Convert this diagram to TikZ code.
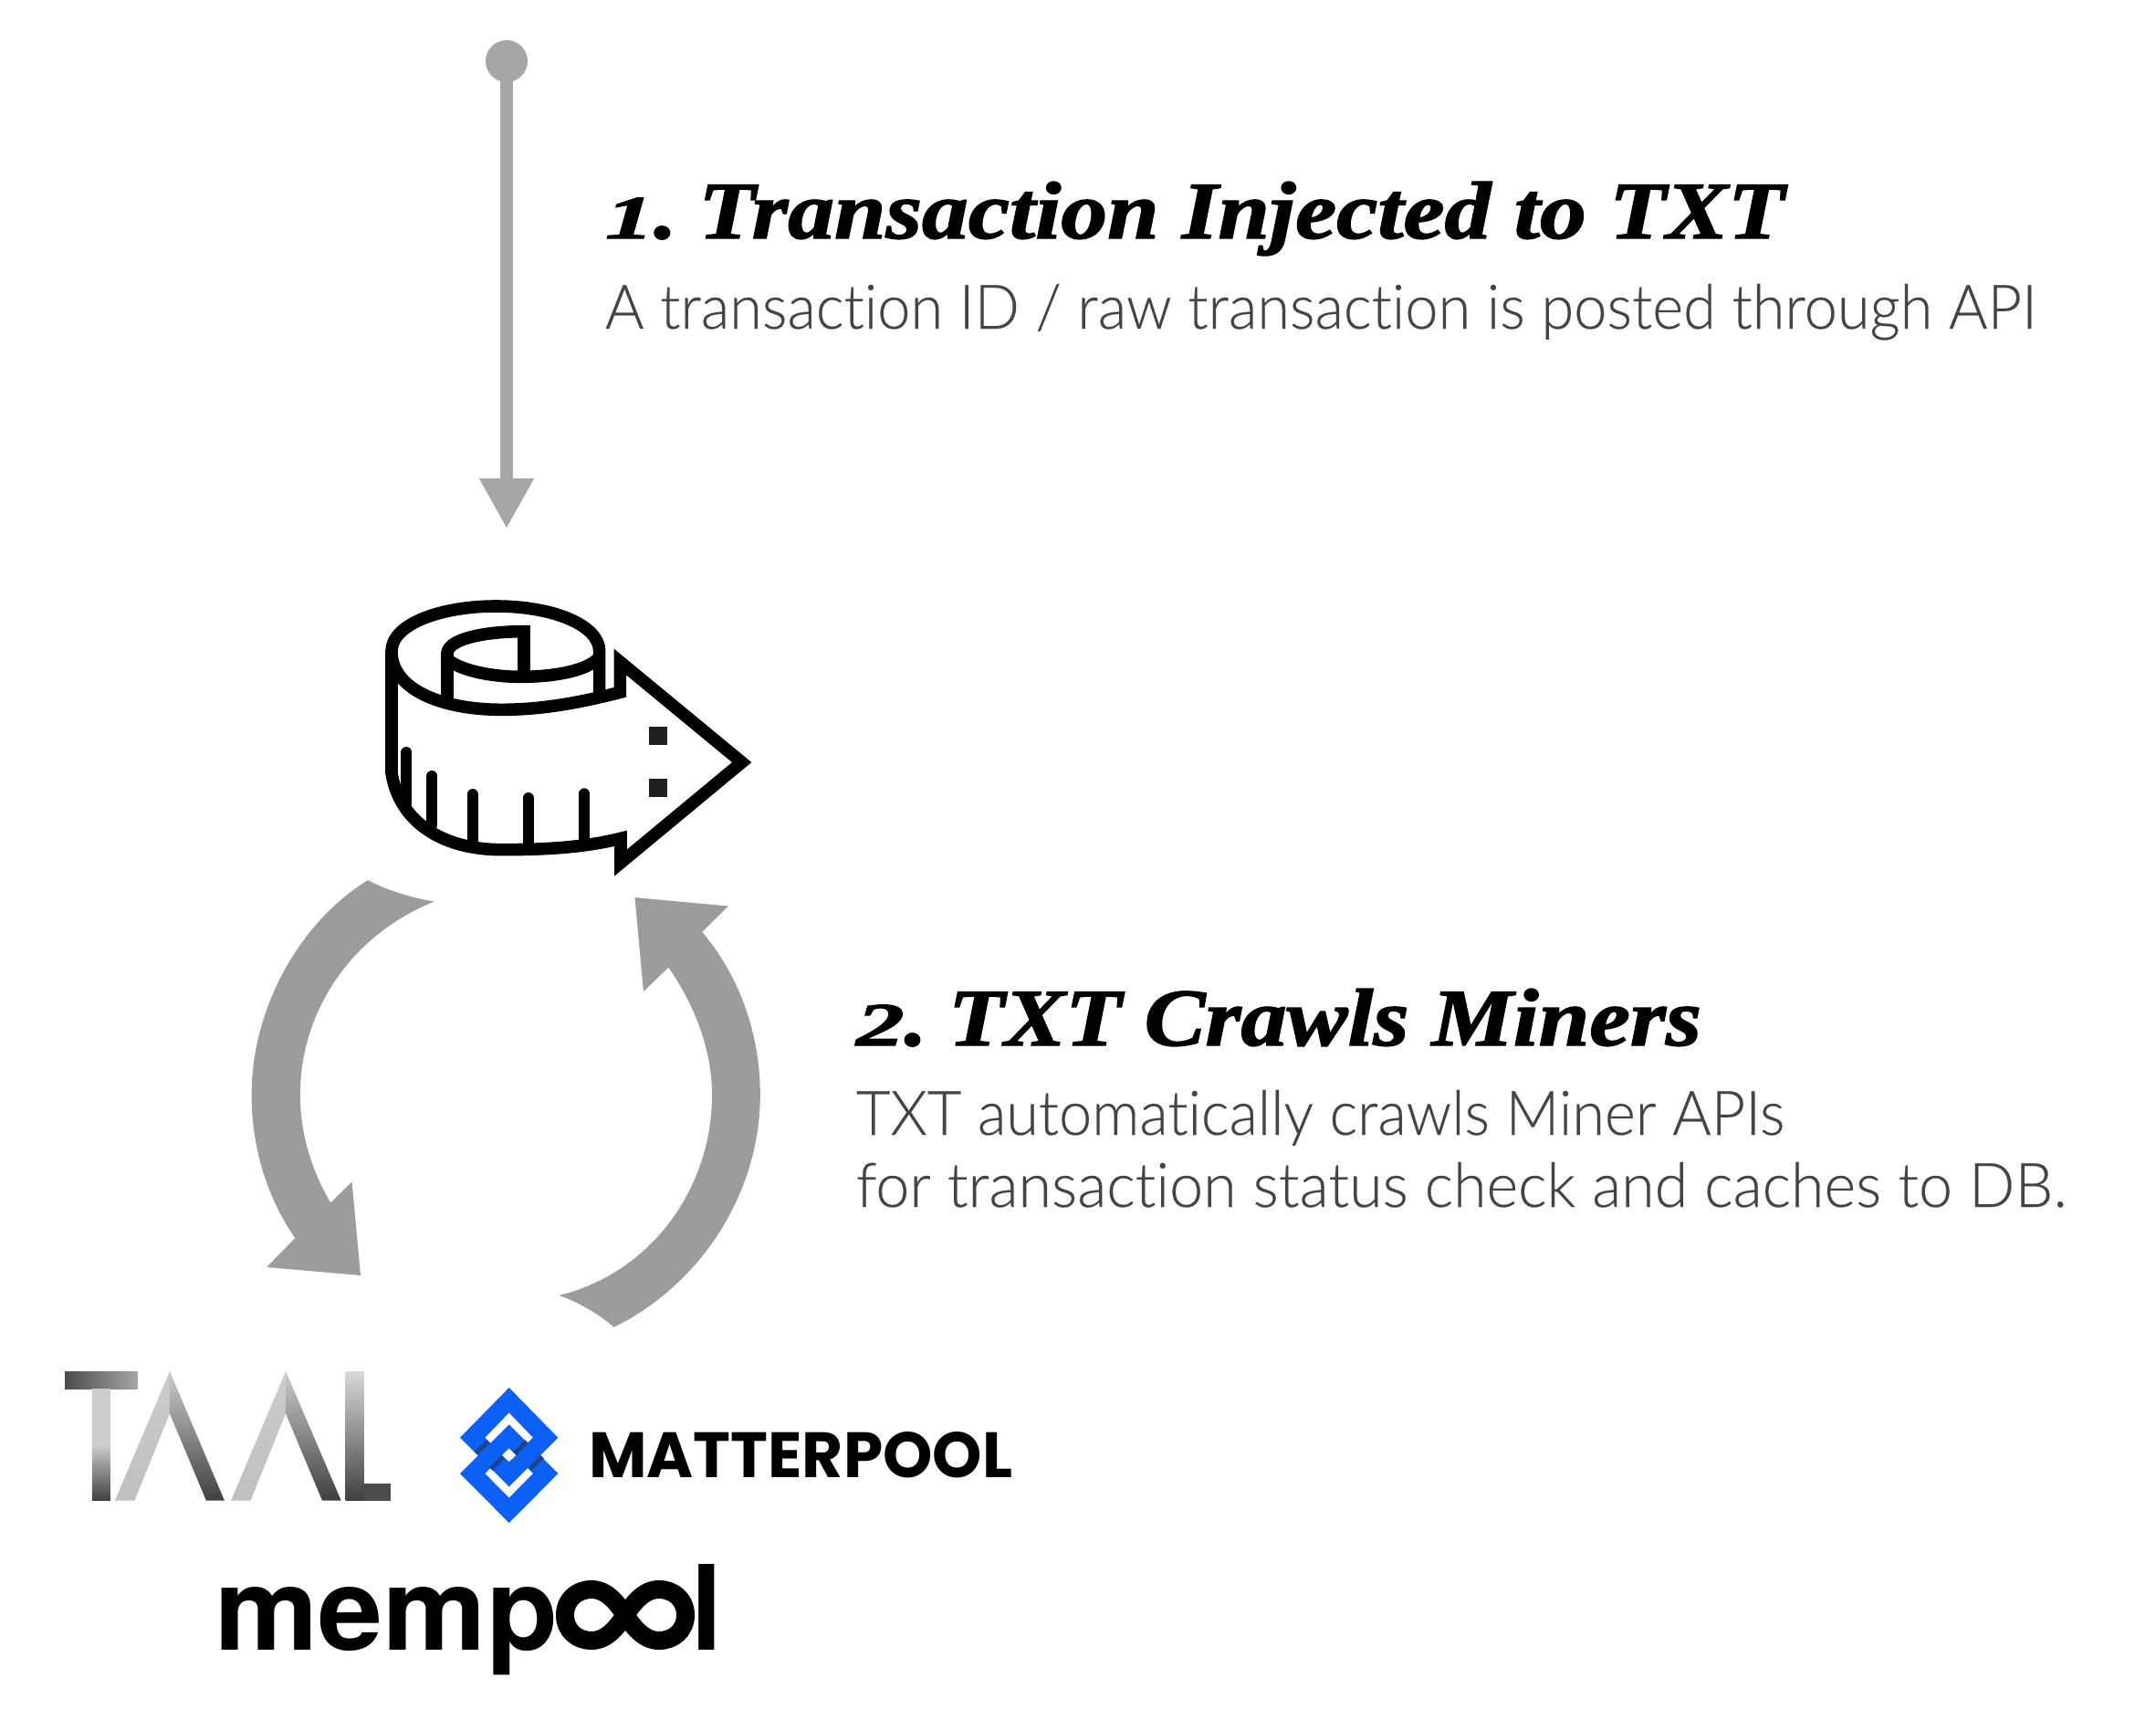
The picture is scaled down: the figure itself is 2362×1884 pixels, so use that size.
\documentclass[tikz,border=0pt]{standalone}
\usepackage{fontspec}
\usepackage{graphicx}
\usetikzlibrary{arrows.meta}
\newfontfamily\headf[FakeBold=1.6]{Liberation Serif Bold Italic}
\newfontfamily\bodyf[Ligatures=NoCommon,FakeBold=0.3]{Lato Light}
\newfontfamily\logof{Poppins}[BoldFont=* Bold]
\newfontfamily\memf{TeX Gyre Heros}[BoldFont=* Bold]
\definecolor{gline}{HTML}{A6A6A6}
\definecolor{gcyc}{HTML}{9C9C9C}
\definecolor{btxt}{HTML}{444444}
\definecolor{mblue}{HTML}{0D60F5}
\definecolor{mdark}{HTML}{1C4587}
\newcommand{\fitbox}[3]{\resizebox{#1pt}{#2pt}{#3}}
\newcommand{\numdig}[1]{\scalebox{1.05}[0.75]{#1}}
\tikzset{
  txt/.style={anchor=base west,inner sep=0pt,outer sep=0pt},
  head/.style={txt,text=black,font=\headf\fontsize{30}{30}\selectfont},
  body/.style={txt,text=btxt,font=\bodyf},
  logo/.style={txt,text=black,font=\logof\bfseries},
  memtxt/.style={txt,text=black,font=\memf\bfseries},
  tape/.style={draw=black,line width=6.8pt,line join=miter},
  tick/.style={draw=black,line width=6pt,line cap=round},
  cyc/.style={fill=gcyc,draw=none},
}
\begin{document}
\begin{tikzpicture}[x=0.5pt,y=-0.5pt]
\useasboundingbox (0,0) rectangle (2362,1884);
% top arrow
\node[circle,fill=gline,minimum size=23pt,inner sep=0pt] (dot) at (555,67) {};
\coordinate (tip) at (555,579);
\draw[gline,line width=7pt,-{Triangle[length=27.5pt,width=28pt]}] (dot.center) -- (tip);
% texts
\node[head] (h1) at (663,261) {\fitbox{646}{31}{\numdig{1}.\hspace{-3pt} Transaction Injected to TXT}};
\node[body] (b1) at (663,360) {\fitbox{784}{24.5}{A transaction ID / raw transaction is posted through API}};
\node[head] (h2) at (938,1145) {\fitbox{463}{31}{\numdig{2}.\hspace{-3pt} TXT Crawls Miners}};
\node[body] (b2) at (938,1243) {\fitbox{508.5}{24.5}{TXT automatically crawls Miner APIs}};
\node[body] (b3) at (938,1322) {\fitbox{663}{24.5}{for transaction status check and caches to DB.}};
% tape measure
\begin{scope}[shift={(380,620)},x=0.16667pt,y=-0.16667pt]
 \draw[tape] (147,300) -- (147,280) .. controls (147,190) and (310,132) .. (490,132)
   .. controls (680,132) and (830,195) .. (830,280) -- (830,420);
 \draw[tape] (147,285) .. controls (150,400) and (300,472) .. (510,472)
   .. controls (650,472) and (780,445) .. (898,415) -- (898,315) -- (1298,645)
   -- (900,975) -- (900,895) .. controls (780,925) and (650,932) .. (510,932)
   .. controls (300,932) and (170,830) .. (147,680) -- cycle;
 \draw[tape] (330,435) -- (330,285) .. controls (335,240) and (450,215) .. (582,215) -- (582,350);
 \draw[tape] (335,310) .. controls (380,345) and (480,364) .. (570,364)
   .. controls (680,364) and (790,345) .. (830,300);
 \draw[tick] (196,612) -- (196,780);
 \draw[tick] (280,690) -- (280,850);
 \draw[tick] (413,750) -- (413,905);
 \draw[tick] (596,762) -- (596,925);
 \draw[tick] (781,748) -- (781,905);
 \fill[black!87] (993,527) rectangle (1053,587);
 \fill[black!87] (993,700) rectangle (1053,760);
\end{scope}
% cycle arrows
\begin{scope}[x=0.4975pt,y=-0.4975pt]
\fill[cyc] (405,969) .. controls (426,980) and (452,988) .. (478,992.5)
  .. controls (385,1030) and (330.5,1115) .. (330.5,1205)
  .. controls (330.5,1250) and (344,1290) .. (364,1324)
  -- (387.5,1301) -- (397,1404) -- (293.6,1395) -- (325,1363)
  .. controls (295,1320) and (277,1265) .. (277,1205)
  .. controls (277,1110) and (330,1015) .. (405,969) -- cycle;
\fill[cyc] (699,988) -- (802,997.5) -- (773,1026)
  .. controls (815,1075) and (837,1140) .. (837,1205)
  .. controls (837,1315) and (770,1415) .. (676,1461)
  .. controls (660,1447) and (638,1434) .. (615.6,1426)
  .. controls (715,1402) and (784,1310) .. (784,1205)
  .. controls (784,1155) and (764,1105) .. (736,1065)
  -- (708.5,1091.5) -- cycle;
\end{scope}
% TAAL logo
\begin{scope}[shift={(71,1502)},x=0.357pt,y=-0.1655pt,shift={(-43,-95)}]
 \shade[left color=black!70,middle color=black!18,right color=black!35] (43,97) rectangle (155,155);
 \shade[top color=black!20,bottom color=black!75,middle color=black!20] (85,155) rectangle (113,523);
 \shade[top color=black!20,bottom color=black!25] (204,95) -- (204,235) -- (150,523) -- (120,523) -- cycle;
 \shade[top color=black!20,bottom color=black!75] (204,95) -- (288,523) -- (260,523) -- (204,235) -- cycle;
 \shade[top color=black!20,bottom color=black!25] (382,95) -- (382,235) -- (328,523) -- (298,523) -- cycle;
 \shade[top color=black!20,bottom color=black!75] (382,95) -- (467,523) -- (438,523) -- (382,235) -- cycle;
 \shade[top color=black!15,bottom color=black!75] (474,97) rectangle (502,523);
 \fill[black!70] (502,468) rectangle (543,523);
\end{scope}
% Matterpool logo
\begin{scope}[shift={(504,1520)},x=0.16667pt,y=-0.16667pt,shift={(-13,-28)}]
 \fill[mblue,even odd rule] (174,28) -- (335,192) -- (174,353) -- (13,192) -- cycle
   (174,110) -- (253,192) -- (174,271) -- (95,192) -- cycle;
 \fill[mblue,even odd rule] (174,149) -- (335,310) -- (174,472) -- (13,310) -- cycle
   (174,228) -- (253,310) -- (174,390) -- (95,310) -- cycle;
 \fill[white] (174,228) -- (197,250) -- (174,271) -- (151,250) -- cycle;
 \draw[mdark,line width=2.6pt] (65,243) -- (105,205) (115,295) -- (155,255)
   (193,245) -- (232,205) (243,295) -- (283,255);
\end{scope}
\node[logo] (mp) at (645,1618) {\fitbox{232}{25}{MATTERPOOL}};
% mempool logo
\node[memtxt] (mem) at (235,1807) {\fitbox{188}{34.5}{memp}};
\node[memtxt] (mel) at (757,1807) {\fitbox{17}{47}{l}};
\draw[black,line width=10pt,line join=round] (619,1769) .. controls (619,1752) and (632,1741) .. (648,1741)
  .. controls (665,1741) and (676,1756) .. (685,1769) .. controls (694,1782) and (705,1797) .. (722,1797)
  .. controls (738,1797) and (751,1786) .. (751,1769) .. controls (751,1752) and (738,1741) .. (722,1741)
  .. controls (705,1741) and (694,1756) .. (685,1769) .. controls (676,1782) and (665,1797) .. (648,1797)
  .. controls (632,1797) and (619,1786) .. (619,1769) -- cycle;
\end{tikzpicture}
\end{document}
